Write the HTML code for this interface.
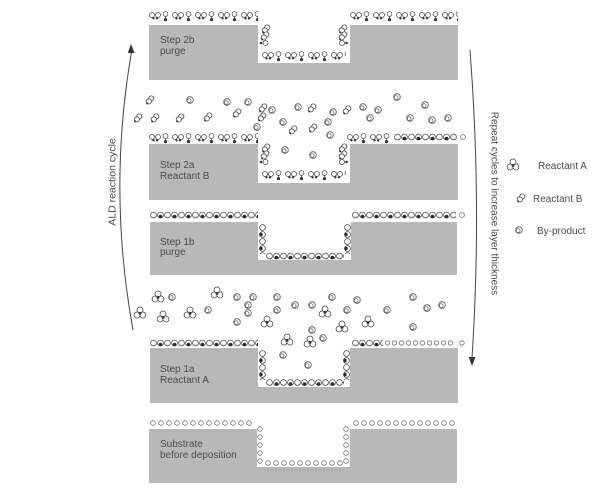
<!DOCTYPE html>
<html><head><meta charset="utf-8"><style>
html,body{margin:0;padding:0;background:#fff;}
svg{display:block;}
text{font-family:"Liberation Sans",Arial,sans-serif;fill:#4a4a4a;}
</style></head><body>
<svg width="603" height="500" viewBox="0 0 603 500" xmlns="http://www.w3.org/2000/svg">
<defs>
<pattern id="pO" width="8" height="8" patternUnits="userSpaceOnUse"><circle cx="4" cy="4" r="2.3" fill="#fff" stroke="#6e6e6e" stroke-width=".8"/></pattern>
<pattern id="pO7" width="7" height="7" patternUnits="userSpaceOnUse"><circle cx="3.5" cy="3.5" r="2.2" fill="#fff" stroke="#6e6e6e" stroke-width=".8"/></pattern>
<pattern id="pA" width="14" height="7" patternUnits="userSpaceOnUse"><g fill="#fff" stroke="#4a4a4a" stroke-width=".8"><circle cx="3.5" cy="3.5" r="2.9"/><circle cx="10.5" cy="3.5" r="2.9"/></g><circle cx="10.5" cy="5" r="1.7" fill="#2b2b2b"/></pattern>
<pattern id="pAv" width="7" height="14" patternUnits="userSpaceOnUse"><g fill="#fff" stroke="#4a4a4a" stroke-width=".8"><circle cx="3.5" cy="3.5" r="2.9"/><circle cx="3.5" cy="10.5" r="2.9"/></g><circle cx="2" cy="10.5" r="1.7" fill="#2b2b2b"/></pattern>
<pattern id="pB" width="23" height="11" patternUnits="userSpaceOnUse">
<g fill="#fff" stroke="#444" stroke-width=".75"><circle cx="3" cy="4" r="2.5"/><circle cx="9" cy="4" r="2.5"/><circle cx="16.5" cy="3" r="2.4"/><line x1="16.5" y1="5.4" x2="16.5" y2="7.5"/></g>
<circle cx="4.5" cy="7.3" r="1.2" fill="#333"/><circle cx="8" cy="7.3" r="1.2" fill="#333"/><circle cx="16.5" cy="8.6" r="1.6" fill="#333"/>
</pattern>
<g id="A" fill="#fff" stroke="#444" stroke-width=".8"><circle cx="0" cy="-3" r="3"/><circle cx="-2.9" cy="2" r="3"/><circle cx="2.9" cy="2" r="3"/><circle cx="0" cy="0.4" r="1.5" fill="#333" stroke="none"/></g>
<g id="B" fill="#fff" stroke="#444" stroke-width=".8"><circle cx="1.3" cy="-1.5" r="2.6"/><circle cx="-1.2" cy="1.4" r="2.6"/><circle cx="-2.8" cy="3.4" r="1" fill="#333" stroke="none"/></g>
<g id="C"><circle r="3.3" fill="#fff" stroke="#555" stroke-width=".8"/><circle cx="-0.8" cy="0.6" r="1.9" fill="none" stroke="#555" stroke-width=".7"/></g>
</defs>

<!-- blocks -->
<g fill="#b8b8b8">
<rect x="149" y="25" width="309" height="55"/>
<rect x="149" y="144" width="309" height="56"/>
<rect x="150" y="222" width="307" height="53"/>
<rect x="150" y="348" width="308" height="55"/>
<rect x="149" y="429" width="308" height="54"/>
</g>
<g fill="#fff">
<rect x="258" y="24" width="92" height="39"/>
<rect x="258" y="143" width="92" height="40"/>
<rect x="258" y="221" width="93" height="39"/>
<rect x="258" y="347" width="92" height="40"/>
<rect x="257" y="428" width="93" height="39"/>
</g>

<!-- substrate surface -->
<g fill="url(#pO)">
<g transform="translate(149,419)"><rect width="104" height="8"/></g>
<g transform="translate(352,419)"><rect width="104" height="8"/></g>
<g transform="translate(256,425)"><rect width="8" height="40"/></g>
<g transform="translate(264,459)"><rect width="80" height="8"/></g>
<g transform="translate(342,425)"><rect width="8" height="40"/></g>
</g>

<!-- step 1a surface -->
<g transform="translate(150,339.5)"><rect width="108" height="7" fill="url(#pA)"/></g>
<g transform="translate(352,339.5)"><rect width="31" height="7" fill="url(#pA)"/></g>
<g transform="translate(384,339.5)"><rect width="70" height="7" fill="url(#pO7)"/></g>
<circle cx="462" cy="343" r="2.2" fill="#fff" stroke="#6e6e6e" stroke-width=".8"/>
<g transform="translate(259,350)"><rect width="7" height="30" fill="url(#pAv)"/></g>
<g transform="translate(266,379)"><rect width="78" height="7" fill="url(#pA)"/></g>
<g transform="translate(343,350)"><rect width="7" height="30" fill="url(#pAv)"/></g>

<!-- step 1b surface -->
<g transform="translate(150,211.5)"><rect width="108" height="7" fill="url(#pA)"/></g>
<g transform="translate(352,211.5)"><rect width="104" height="7" fill="url(#pA)"/></g>
<circle cx="462" cy="215" r="2.4" fill="#fff" stroke="#6e6e6e" stroke-width=".8"/>
<g transform="translate(259,224)"><rect width="7" height="30" fill="url(#pAv)"/></g>
<g transform="translate(266,252.5)"><rect width="78" height="7" fill="url(#pA)"/></g>
<g transform="translate(344,224)"><rect width="7" height="30" fill="url(#pAv)"/></g>

<!-- step 2a surface -->
<g transform="translate(149,133)"><rect width="109" height="11" fill="url(#pB)"/></g>
<g transform="translate(347,133)"><rect width="46" height="11" fill="url(#pB)"/></g>
<g transform="translate(394,133.5)"><rect width="63" height="7" fill="url(#pA)"/></g>
<circle cx="463" cy="137" r="2.4" fill="#fff" stroke="#6e6e6e" stroke-width=".8"/>
<g transform="translate(262,170)"><rect width="84" height="11" fill="url(#pB)"/></g>
<use href="#B" x="266" y="148"/><use href="#B" x="265" y="155"/>
<circle cx="261" cy="162" r="1.3" fill="#333"/><circle cx="265.5" cy="162" r="2.5" fill="#fff" stroke="#444" stroke-width=".75"/>
<use href="#B" x="343" y="148"/><use href="#B" x="343" y="155"/>
<circle cx="342" cy="162" r="2.5" fill="#fff" stroke="#444" stroke-width=".75"/><circle cx="346.5" cy="162" r="1.3" fill="#333"/>

<!-- step 2b surface -->
<g transform="translate(149,11)"><rect width="109" height="11" fill="url(#pB)"/></g>
<g transform="translate(350,11)"><rect width="108" height="11" fill="url(#pB)"/></g>
<g transform="translate(262,51)"><rect width="84" height="11" fill="url(#pB)"/></g>
<use href="#B" x="266" y="29"/><use href="#B" x="265" y="36"/>
<circle cx="261" cy="43" r="1.3" fill="#333"/><circle cx="265.5" cy="43" r="2.5" fill="#fff" stroke="#444" stroke-width=".75"/>
<use href="#B" x="343" y="29"/><use href="#B" x="343" y="36"/>
<circle cx="342" cy="43" r="2.5" fill="#fff" stroke="#444" stroke-width=".75"/><circle cx="346.5" cy="43" r="1.3" fill="#333"/>

<!-- gas step 2a -->
<use href="#B" x="150" y="100"/><use href="#C" x="190" y="100"/><use href="#C" x="227" y="102"/>
<use href="#C" x="248" y="102"/><use href="#B" x="263" y="108"/><use href="#C" x="272" y="110"/>
<use href="#C" x="298" y="107"/><use href="#B" x="312" y="108"/><use href="#C" x="333" y="112"/>
<use href="#B" x="347" y="110"/><use href="#C" x="363" y="107"/><use href="#C" x="378" y="110"/>
<use href="#C" x="397" y="97"/><use href="#C" x="425" y="105"/>
<use href="#B" x="138" y="118"/><use href="#B" x="155" y="118"/><use href="#B" x="180" y="118"/>
<use href="#B" x="208" y="117"/><use href="#B" x="237" y="113"/><use href="#B" x="262" y="117"/>
<use href="#C" x="283" y="122"/><use href="#C" x="328" y="122"/><use href="#C" x="370" y="118"/>
<use href="#C" x="410" y="118"/><use href="#C" x="432" y="120"/><use href="#C" x="448" y="118"/>
<use href="#C" x="257" y="127"/><use href="#B" x="293" y="130"/><use href="#B" x="313" y="128"/>
<use href="#C" x="330" y="135"/><use href="#C" x="285" y="150"/><use href="#C" x="313" y="155"/>

<!-- gas step 1a -->
<use href="#A" x="158" y="297"/><use href="#A" x="217" y="293"/><use href="#A" x="140" y="313"/>
<use href="#A" x="163" y="317"/><use href="#A" x="190" y="313"/><use href="#A" x="267" y="322"/>
<use href="#A" x="325" y="312"/><use href="#A" x="342" y="327"/><use href="#A" x="368" y="322"/>
<use href="#A" x="287" y="340"/><use href="#A" x="310" y="342"/>
<use href="#C" x="172" y="297"/><use href="#C" x="237" y="297"/><use href="#C" x="253" y="297"/>
<use href="#C" x="277" y="297"/><use href="#C" x="332" y="297"/><use href="#C" x="357" y="300"/>
<use href="#C" x="413" y="297"/><use href="#C" x="208" y="310"/><use href="#C" x="248" y="305"/>
<use href="#C" x="248" y="313"/><use href="#C" x="277" y="310"/><use href="#C" x="295" y="305"/>
<use href="#C" x="312" y="305"/><use href="#C" x="347" y="310"/><use href="#C" x="387" y="310"/>
<use href="#C" x="427" y="308"/><use href="#C" x="442" y="305"/><use href="#C" x="237" y="322"/>
<use href="#C" x="312" y="330"/><use href="#C" x="323" y="338"/><use href="#C" x="413" y="327"/>
<use href="#C" x="283" y="355"/><use href="#C" x="308" y="365"/>

<!-- block labels -->
<g font-size="10">
<text x="160" y="43">Step 2b</text><text x="160" y="54">purge</text>
<text x="160" y="168">Step 2a</text><text x="160" y="179">Reactant B</text>
<text x="160" y="245">Step 1b</text><text x="160" y="255">purge</text>
<text x="160" y="372">Step 1a</text><text x="160" y="383">Reactant A</text>
<text x="160" y="447">Substrate</text><text x="160" y="458">before deposition</text>
</g>

<!-- arrows -->
<path d="M133,330 Q107.5,190 131.5,52" fill="none" stroke="#444" stroke-width="1"/>
<polygon points="131,44 127.8,53 134.6,53" fill="#333"/>
<path d="M470,50 Q482,205 472,358" fill="none" stroke="#444" stroke-width="1"/>
<polygon points="472,366 468.7,357 475.5,357" fill="#333"/>
<text font-size="10.5" text-anchor="middle" transform="translate(115.5,182) rotate(-90)">ALD reaction cycle</text>
<text font-size="10" text-anchor="middle" transform="translate(491.5,203.5) rotate(90)">Repeat cycles to increase layer thickness</text>

<!-- legend -->
<use href="#A" x="513" y="165"/>
<text x="538" y="169" font-size="10">Reactant A</text>
<use href="#B" x="521" y="198"/>
<text x="533" y="202" font-size="10">Reactant B</text>
<use href="#C" x="519" y="230"/>
<text x="537" y="234" font-size="10">By-product</text>
</svg>
</body></html>
